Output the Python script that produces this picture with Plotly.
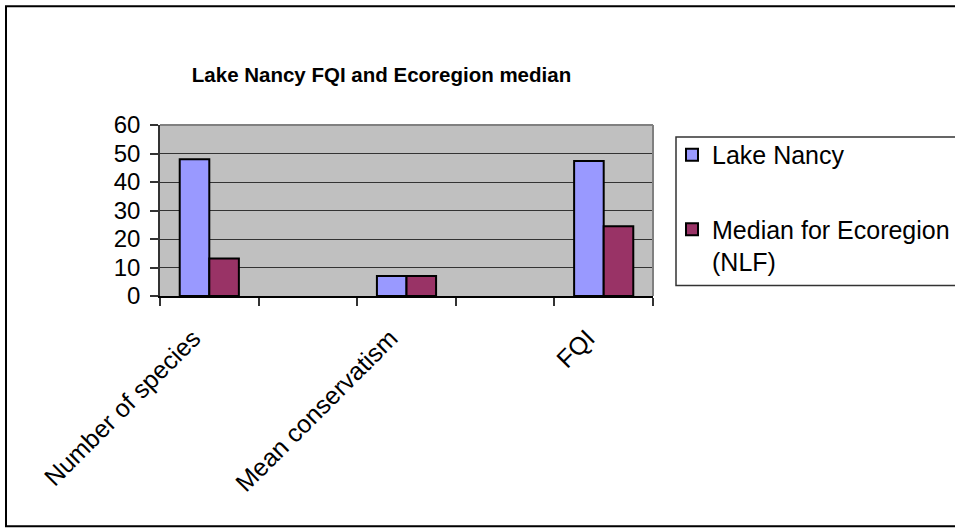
import plotly.graph_objects as go

categories = ["Number of species", " ", "Mean conservatism", "  ", "FQI"]
lake_nancy = [48, None, 7, None, 47.4]
median_nlf = [13.2, None, 7, None, 24.5]
series_names = ["Lake Nancy", "Median for Ecoregion<br>(NLF)"]
y_ticks = [0, 10, 20, 30, 40, 50, 60]

FONT = "Arial, Liberation Sans, sans-serif"

fig = go.Figure()
fig.add_trace(go.Bar(x=categories, y=lake_nancy, name=series_names[0],
                     marker=dict(color="#9999FF", line=dict(color="black", width=2)),
                     legendgroup="a"))
fig.add_trace(go.Bar(x=categories, y=median_nlf, name=series_names[1],
                     marker=dict(color="#993366", line=dict(color="black", width=2)),
                     legendgroup="b"))

W, H = 955, 529
L, R, T, B = 160, 653, 125, 296.5

def px_to_paper_x(px):
    return (px - L) / (R - L)

def px_to_paper_y(py):
    return (B - py) / (B - T)

fig.update_layout(
    width=W, height=H,
    margin=dict(l=L, r=W - R, t=T, b=H - B, pad=0, autoexpand=False),
    paper_bgcolor="white",
    plot_bgcolor="#C0C0C0",
    barmode="group",
    bargap=0.4,
    bargroupgap=0,
    font=dict(family=FONT, size=24, color="black"),
    title=dict(text="<b>Lake Nancy FQI and Ecoregion median</b>",
               font=dict(family=FONT, size=20.5, color="black"),
               x=px_to_paper_x(381.5), xref="paper", xanchor="center",
               y=1 - 75 / H, yref="container", yanchor="middle"),
    showlegend=True,
    legend=dict(x=px_to_paper_x(672), xanchor="left",
                y=px_to_paper_y(132), yanchor="top",
                borderwidth=0, bgcolor="rgba(0,0,0,0)",
                font=dict(family=FONT, size=25),
                traceorder="grouped", tracegroupgap=39,
                itemwidth=30, valign="top"),
    xaxis=dict(type="category", tickson="boundaries", ticks="outside",
               ticklen=8, tickcolor="#333", tickwidth=1.5, showline=True,
               linecolor="black", linewidth=1.5, tickangle=-45, showgrid=False,
               ticklabelstandoff=16, ticklabelshift=-16,
               tickfont=dict(family=FONT, size=25)),
    yaxis=dict(range=[0, 60], tickvals=y_ticks, ticks="outside", ticklen=8,
               tickcolor="#333", tickwidth=1.5, showline=True, linecolor="#333",
               linewidth=1.5, showgrid=True, gridcolor="#333", gridwidth=1,
               zeroline=False, ticklabelstandoff=5,
               tickfont=dict(family=FONT, size=24)),
)

# plot area grey border (top/right)
fig.add_shape(type="line", xref="paper", yref="paper", x0=0, x1=1, y0=1, y1=1,
              line=dict(color="#808080", width=2), layer="above")
fig.add_shape(type="line", xref="paper", yref="paper", x0=1, x1=1, y0=0, y1=1,
              line=dict(color="#808080", width=2), layer="above")
# legend frame (extends past the right edge)
fig.add_shape(type="rect", xref="paper", yref="paper",
              x0=px_to_paper_x(676), x1=px_to_paper_x(1000),
              y0=px_to_paper_y(286), y1=px_to_paper_y(137),
              line=dict(color="#333", width=1.5), fillcolor="white", layer="below")
# outer chart border (extends past the right edge)
fig.add_shape(type="rect", xref="paper", yref="paper",
              x0=px_to_paper_x(6), x1=px_to_paper_x(1000),
              y0=px_to_paper_y(527.5), y1=px_to_paper_y(6),
              line=dict(color="black", width=2), fillcolor="rgba(0,0,0,0)")

fig.write_html("out.html", config={"displayModeBar": False},
               post_script="document.body.style.margin='0px';")
